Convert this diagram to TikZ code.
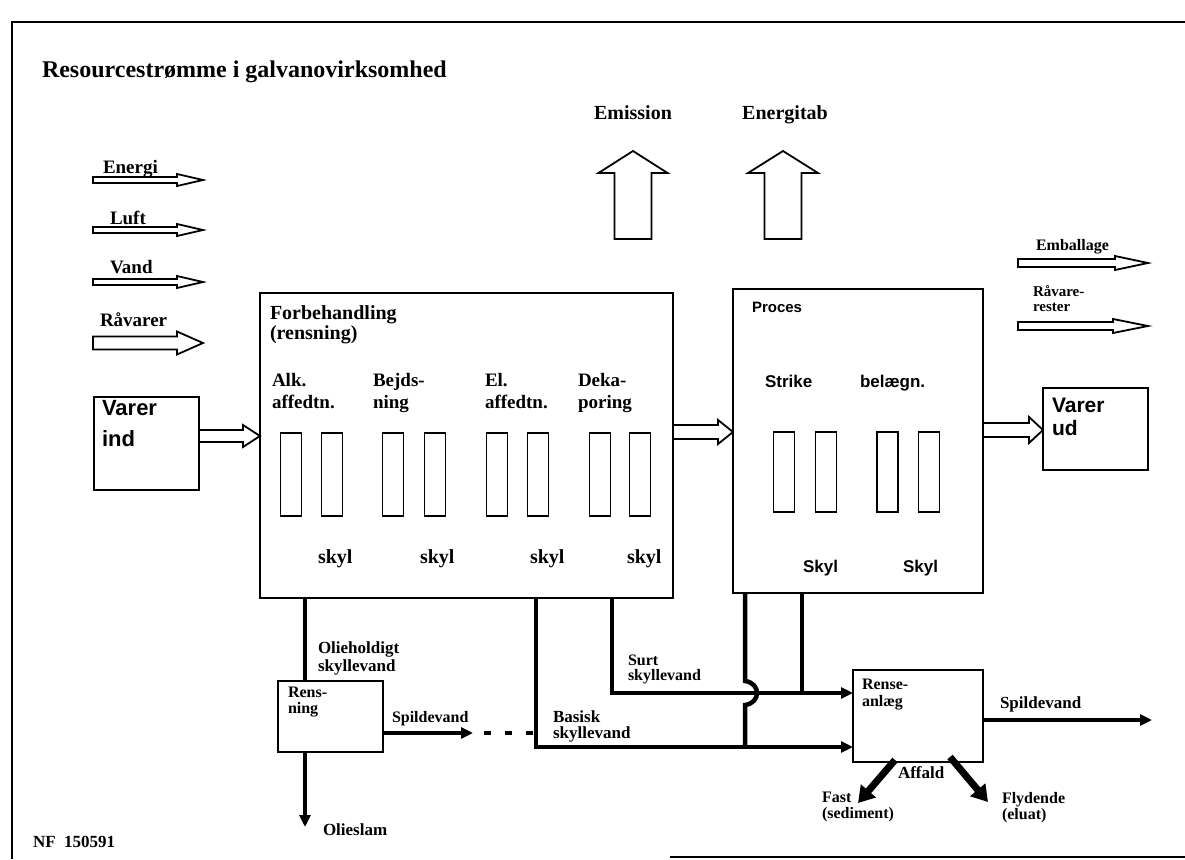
\documentclass[tikz,border=0pt]{standalone}
\usepackage{fontspec}
\setmainfont{Liberation Serif}
\newfontfamily\sansf{Liberation Sans}
\usetikzlibrary{calc,arrows.meta}
\newcommand\myfs[2]{\fontsize{#1}{#2}\selectfont\bfseries}
\newcommand\mysf[2]{\sansf\fontsize{#1}{#2}\selectfont\bfseries}
% hollow arrow to the right: #1 start, #2 end (x used), #3 shaft half, #4 head half, #5 head length
\newcommand\hollowR[5]{\path[hollow] let \p1=#1, \p2=#2 in (\x1,\y1+#3) -- (\x2-#5,\y1+#3) -- (\x2-#5,\y1+#4) -- (\x2,\y1) -- (\x2-#5,\y1-#4) -- (\x2-#5,\y1-#3) -- (\x1,\y1-#3) -- cycle;}
% hollow arrow upwards: #1 tip, #2 base (y used)
\newcommand\hollowU[5]{\path[hollow] let \p1=#1, \p2=#2 in (\x1-#3,\y2) -- (\x1-#3,\y1-#5) -- (\x1-#4,\y1-#5) -- (\x1,\y1) -- (\x1+#4,\y1-#5) -- (\x1+#3,\y1-#5) -- (\x1+#3,\y2) -- cycle;}
\tikzset{
 box/.style={draw, line width=2pt, inner sep=0pt, outer sep=0pt, fill=white},
 tank/.style={draw, line width=1.8pt, minimum width=21pt, inner sep=0pt, outer sep=0pt},
 hollow/.style={draw, line width=1.8pt, line join=miter, fill=white},
 flow/.style={line width=4.5pt, line join=miter},
 lbl/.style={anchor=north west, inner sep=0pt, outer sep=0pt, align=left},
 ctr/.style={anchor=north, inner sep=0pt, outer sep=0pt, align=center},
 tipS/.style={-{Triangle[length=12pt,width=11pt]}},
 fat/.style={line width=7pt, -{Triangle[length=16pt,width=19pt]}},
}
\begin{document}
\begin{tikzpicture}[x=1pt,y=-1pt]
\useasboundingbox (0,0) rectangle (1185,859);
\fill[white] (0,0) rectangle (1185,859);
% frame
\draw[line width=2pt] (12,859) -- (12,22) -- (1185,22);
\draw[line width=2pt] (670,857) -- (1185,857);

% boxes
\node[box, minimum width=105pt, minimum height=93pt] (vind) at (146.5,443.5) {};
\node[box, minimum width=413pt, minimum height=305pt] (forb) at (466.5,445.5) {};
\node[box, minimum width=250pt, minimum height=304pt] (proc) at (858,441) {};
\node[box, minimum width=105pt, minimum height=82pt] (vud) at (1095.5,429) {};
\node[box, minimum width=105pt, minimum height=71pt] (rens) at (330.5,716.5) {};
\node[box, minimum width=130pt, minimum height=92pt] (ranl) at (918,716) {};

% tanks
\foreach \x/\n in {291/t1,332/t2,393/t3,435/t4,497/t5,538/t6,600/t7,640/t8}
  \node[tank, minimum height=83pt] (\n) at (\x,474.5) {};
\foreach \x/\n in {784/t9,826/t10,887.5/t11,929/t12}
  \node[tank, minimum height=80pt] (\n) at (\x,472) {};

% free arrow end points
\coordinate (e1s) at (93,180);  \coordinate (e1e) at (203,180);
\coordinate (e2s) at (93,230);  \coordinate (e2e) at (203,230);
\coordinate (e3s) at (93,282);  \coordinate (e3e) at (203,282);
\coordinate (e4s) at (93,343);  \coordinate (e4e) at (203,343);
\coordinate (o1s) at (1018,263); \coordinate (o1e) at (1148,263);
\coordinate (o2s) at (1018,326); \coordinate (o2e) at (1148,326);
\coordinate (u1t) at (633,151); \coordinate (u1b) at (633,239);
\coordinate (u2t) at (783,151); \coordinate (u2b) at (783,239);

% hollow arrows
\hollowR{(e1s)}{(e1e)}{3pt}{6pt}{26pt}
\hollowR{(e2s)}{(e2e)}{3pt}{6pt}{26pt}
\hollowR{(e3s)}{(e3e)}{3pt}{6pt}{26pt}
\hollowR{(e4s)}{(e4e)}{6.5pt}{11.5pt}{26pt}
\hollowR{(o1s)}{(o1e)}{4pt}{7pt}{33pt}
\hollowR{(o2s)}{(o2e)}{4pt}{7pt}{35pt}
\hollowR{([yshift=7.5pt]vind.east)}{(forb.west)}{6pt}{11pt}{17pt}
\hollowR{([yshift=13.5pt]forb.east)}{(proc.west)}{7pt}{12pt}{15pt}
\hollowR{([yshift=11pt]proc.east)}{(vud.west)}{7pt}{13pt}{14pt}
\hollowU{(u1t)}{(u1b)}{18.5pt}{34.5pt}{22pt}
\hollowU{(u2t)}{(u2b)}{18.5pt}{35pt}{22pt}

% waste-water connectors
\coordinate (xo) at (305,0); \coordinate (xb) at (536,0); \coordinate (xs) at (612,0);
\coordinate (yS) at (0,693); \coordinate (yB) at (0,747);
\coordinate (xp1) at (745,0); \coordinate (xp2) at (802,0);
\coordinate (j1) at (745,681); \coordinate (j2) at (745,705);
\coordinate (sl) at (305,827);
\coordinate (spA) at (473,733); \coordinate (spB) at (484,733);
\coordinate (spo) at (1152,720);
\coordinate (af1a) at (895,760); \coordinate (af1b) at (858,803);
\coordinate (af2a) at (950,757); \coordinate (af2b) at (988,802);

\draw[flow] (forb.south -| xo) -- (rens.north -| xo);
\draw[flow,tipS] (rens.south -| xo) -- (sl);
\draw[flow,tipS] (rens.east |- spA) -- (spA);
\draw[line width=4pt, dash pattern=on 7pt off 14pt] (spB) -- (spB -| xb);
\draw[flow,tipS] (forb.south -| xb) -- (xb |- yB) -- (ranl.west |- yB);
\draw[flow,tipS] (forb.south -| xs) -- (xs |- yS) -- (ranl.west |- yS);
\draw[flow] (proc.south -| xp1) -- (j1) .. controls +(16,2) and +(16,-2) .. (j2) -- (xp1 |- yB);
\draw[flow] (proc.south -| xp2) -- (xp2 |- yS);
\draw[flow,tipS] (ranl.east |- spo) -- (spo);
\draw[fat] (af1a) -- (af1b);
\draw[fat] (af2a) -- (af2b);

% texts
\node[lbl, font=\myfs{24}{26}] (title) at (42,61) {Resourcestrømme i galvanovirksomhed};
\node[lbl, font=\myfs{19}{20}] (lenergi) at (103,160) {Energi};
\node[lbl, font=\myfs{19}{20}] (lluft) at (110,211) {Luft};
\node[lbl, font=\myfs{19}{20}] (lvand) at (110,260) {Vand};
\node[lbl, font=\myfs{19}{20}] (lraa) at (100,313) {Råvarer};
\node[ctr, font=\myfs{20}{22}] (lemis) at (633,106) {Emission};
\node[ctr, font=\myfs{20}{22}] (letab) at (785,106) {Energitab};
\node[lbl, font=\myfs{16}{16}] (lemb) at (1036,239) {Emballage};
\node[lbl, font=\myfs{15}{15}] (lrest) at (1033,286) {Råvare-\\rester};

\node[lbl, font=\mysf{22}{31}] (tvind) at (102,400) {Varer\\ind};
\node[lbl, font=\mysf{21}{23}] (tvud) at (1052,398) {Varer\\ud};

\node[lbl, font=\myfs{20}{20}] (tforb) at (270,306) {Forbehandling\\(rensning)};
\node[lbl, font=\myfs{19}{22}] (lalk) at (272,373) {Alk.\\affedtn.};
\node[lbl, font=\myfs{19}{22}] (lbejd) at (373,373) {Bejds-\\ning};
\node[lbl, font=\myfs{19}{22}] (lel) at (485,373) {El.\\affedtn.};
\node[lbl, font=\myfs{19}{22}] (ldek) at (578,373) {Deka-\\poring};
\node[lbl, font=\myfs{20}{20}] (s1) at (318,550) {skyl};
\node[lbl, font=\myfs{20}{20}] (s2) at (420,550) {skyl};
\node[lbl, font=\myfs{20}{20}] (s3) at (530,550) {skyl};
\node[lbl, font=\myfs{20}{20}] (s4) at (627,550) {skyl};

\node[lbl, font=\mysf{15}{16}] (tproc) at (752,302) {Proces};
\node[lbl, font=\mysf{17}{18}] (lstr) at (765,375) {Strike};
\node[lbl, font=\mysf{17}{18}] (lbel) at (860,375) {belægn.};
\node[lbl, font=\mysf{17}{18}] (s5) at (803,560) {Skyl};
\node[lbl, font=\mysf{17}{18}] (s6) at (903,560) {Skyl};

\node[lbl, font=\myfs{17}{18}] (lolie) at (318,642) {Olieholdigt\\skyllevand};
\node[lbl, font=\myfs{16}{16}] (trens) at (288,687) {Rens-\\ning};
\node[lbl, font=\myfs{16}{17}] (lspil1) at (392,711) {Spildevand};
\node[lbl, font=\myfs{17}{16}] (lbas) at (553,711) {Basisk\\skyllevand};
\node[lbl, font=\myfs{16}{15}] (lsurt) at (628,655) {Surt\\skyllevand};
\node[lbl, font=\myfs{16}{17}] (tranl) at (862,679) {Rense-\\anlæg};
\node[lbl, font=\myfs{17}{18}] (lspil2) at (1000,697) {Spildevand};
\node[lbl, font=\myfs{17}{18}] (laff) at (898,767) {Affald};
\node[lbl, font=\myfs{16}{16}] (lfast) at (822,792) {Fast\\(sediment)};
\node[lbl, font=\myfs{16}{16}] (lflyd) at (1002,792) {Flydende\\(eluat)};
\node[lbl, font=\myfs{17}{18}] (lslam) at (323,824) {Olieslam};
\node[lbl, font=\myfs{17}{18}] (lnf) at (33,836) {NF\ \ 150591};
\end{tikzpicture}
\end{document}
